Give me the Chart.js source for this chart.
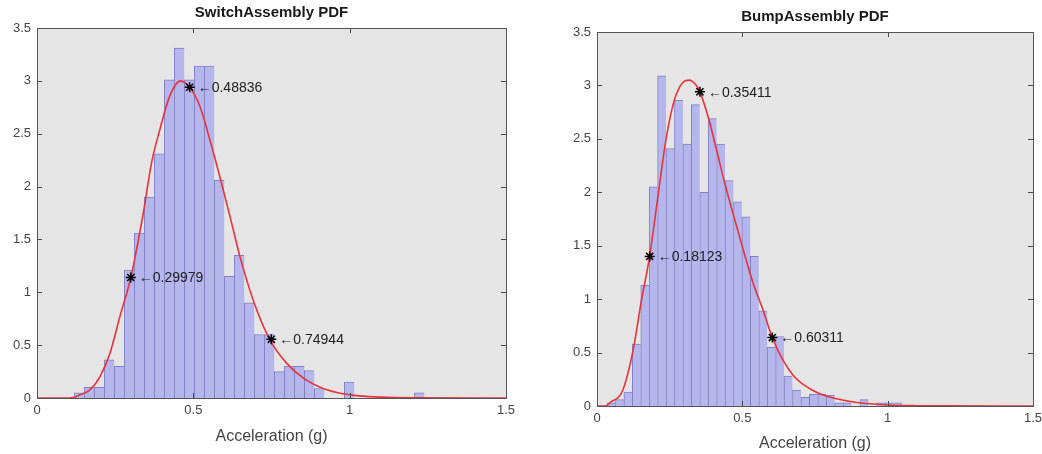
<!DOCTYPE html>
<html>
<head>
<meta charset="utf-8">
<script src="https://cdn.jsdelivr.net/npm/chart.js@4.4.0/dist/chart.umd.min.js"></script>
<style>
  html, body { margin: 0; padding: 0; background: #fff; }
  #wrap { position: relative; width: 1042px; height: 454px; }
  .box { position: absolute; top: 0; width: 521px; height: 454px; }
  #left { left: 0; }
  #right { left: 521px; }
</style>
</head>
<body>
<div id="wrap">
  <div class="box" id="left"><canvas id="switchChart"></canvas></div>
  <div class="box" id="right"><canvas id="bumpChart"></canvas></div>
</div>
<script>
var xTickValues = [0, 0.5, 1, 1.5];
var yTickValues = [0, 0.5, 1, 1.5, 2, 2.5, 3, 3.5];
var xAxisTitle = 'Acceleration (g)';

// SwitchAssembly
var switchTitle = 'SwitchAssembly PDF';
var switchBinCenters = [0.135, 0.167, 0.199, 0.231, 0.263, 0.295, 0.327, 0.359, 0.391, 0.423,
  0.455, 0.487, 0.519, 0.551, 0.583, 0.615, 0.647, 0.679, 0.711, 0.743,
  0.775, 0.807, 0.839, 0.871, 0.903, 0.935, 0.967, 0.999, 1.031, 1.063,
  1.095, 1.127, 1.159, 1.191, 1.223];
var switchDensity = [0.05, 0.10, 0.10, 0.36, 0.30, 1.21, 1.56, 1.90, 2.31, 3.01,
  3.31, 3.01, 3.14, 3.14, 2.06, 1.15, 1.35, 0.90, 0.60, 0.60,
  0.25, 0.30, 0.30, 0.26, 0.09, 0, 0, 0.15, 0, 0,
  0, 0, 0, 0, 0.05];
var switchFitX = [0, 0.08, 0.116, 0.137, 0.169, 0.201, 0.233, 0.265, 0.300, 0.340,
  0.366, 0.393, 0.425, 0.459, 0.488, 0.521, 0.553, 0.585, 0.617, 0.649,
  0.691, 0.744, 0.798, 0.851, 0.915, 0.979, 1.03, 1.1, 1.2, 1.5];
var switchFitY = [0, 0, 0.005, 0.03, 0.076, 0.20, 0.42, 0.77, 1.14, 1.75,
  2.22, 2.54, 2.86, 3.00, 2.94, 2.76, 2.44, 2.09, 1.72, 1.34,
  0.93, 0.555, 0.33, 0.19, 0.09, 0.04, 0.02, 0.008, 0.002, 0];
var switchMarkX = [0.29979, 0.48836, 0.74944];
var switchMarkY = [1.14, 2.94, 0.555];

// BumpAssembly
var bumpTitle = 'BumpAssembly PDF';
var bumpBinCenters = [0.049, 0.078, 0.107, 0.136, 0.165, 0.194, 0.223, 0.252, 0.281, 0.310,
  0.339, 0.368, 0.397, 0.426, 0.455, 0.484, 0.513, 0.542, 0.571, 0.600,
  0.629, 0.658, 0.687, 0.716, 0.745, 0.774, 0.803, 0.832, 0.861, 0.890,
  0.919, 0.948, 0.977, 1.006, 1.035];
var bumpDensity = [0.03, 0.06, 0.13, 0.58, 1.13, 2.05, 3.09, 2.41, 2.86, 2.45,
  2.82, 2.00, 2.69, 2.45, 2.11, 1.91, 1.77, 1.40, 0.89, 0.55,
  0.65, 0.28, 0.15, 0.08, 0.11, 0.11, 0.10, 0.03, 0.03, 0,
  0.06, 0, 0.03, 0.03, 0.03];
var bumpFitX = [0, 0.03, 0.044, 0.089, 0.124, 0.153, 0.181, 0.211, 0.239, 0.267,
  0.296, 0.316, 0.342, 0.354, 0.382, 0.411, 0.439, 0.468, 0.497, 0.537,
  0.571, 0.603, 0.640, 0.674, 0.70, 0.74, 0.78, 0.82, 0.9, 1.0,
  1.1, 1.2, 1.5];
var bumpFitY = [0, 0, 0.03, 0.15, 0.52, 0.99, 1.40, 1.99, 2.52, 2.87,
  3.03, 3.05, 3.00, 2.94, 2.71, 2.40, 2.09, 1.80, 1.52, 1.15,
  0.90, 0.64, 0.43, 0.29, 0.22, 0.15, 0.10, 0.07, 0.03, 0.01,
  0.003, 0.001, 0];
var bumpMarkX = [0.18123, 0.35411, 0.60311];
var bumpMarkY = [1.40, 2.94, 0.64];

var fontFamily = '"Liberation Sans", Arial, Helvetica, sans-serif';

function pairs(xs, ys) {
  return xs.map(function(x, i) { return {x: x, y: ys[i]}; });
}

function plainLabel(value) {
  return String(value);
}

// matlab style axes: grey box, inside ticks on all sides, title, xlabel, marker labels
var matlabAxes = {
  id: 'matlabAxes',
  beforeDraw: function(chart) {
    var a = chart.chartArea, ctx = chart.ctx;
    ctx.save();
    ctx.fillStyle = '#e5e5e5';
    ctx.fillRect(a.left, a.top, a.right - a.left, a.bottom - a.top);
    ctx.restore();
  },
  afterDraw: function(chart, args, opts) {
    var a = chart.chartArea, ctx = chart.ctx;
    var xs = chart.scales.x, ys = chart.scales.y;
    ctx.save();
    ctx.strokeStyle = '#4a4a4a';
    ctx.lineWidth = 1;
    ctx.beginPath();
    xTickValues.forEach(function(v) {
      var px = Math.round(xs.getPixelForValue(v)) + 0.5;
      ctx.moveTo(px, a.bottom); ctx.lineTo(px, a.bottom - 5);
      ctx.moveTo(px, a.top); ctx.lineTo(px, a.top + 5);
    });
    yTickValues.forEach(function(v) {
      var py = Math.round(ys.getPixelForValue(v)) + 0.5;
      ctx.moveTo(a.left, py); ctx.lineTo(a.left + 5, py);
      ctx.moveTo(a.right, py); ctx.lineTo(a.right - 5, py);
    });
    ctx.stroke();
    ctx.strokeStyle = '#555';
    ctx.strokeRect(Math.round(a.left) + 0.5, Math.round(a.top) + 0.5,
      Math.round(a.right - a.left), Math.round(a.bottom - a.top));

    var cx = (a.left + a.right) / 2;
    ctx.fillStyle = '#1a1a1a';
    ctx.textAlign = 'center';
    ctx.textBaseline = 'middle';
    ctx.font = 'bold 15px ' + fontFamily;
    ctx.fillText(opts.title, cx, a.top - 15);
    ctx.fillStyle = '#444';
    ctx.font = '16px ' + fontFamily;
    ctx.fillText(xAxisTitle, cx, a.bottom + opts.xlabelGap);

    // labels next to the star markers
    var meta = chart.getDatasetMeta(0);
    ctx.fillStyle = '#222';
    ctx.textAlign = 'left';
    ctx.font = '14px ' + fontFamily;
    meta.data.forEach(function(pt, i) {
      ctx.fillText('\u2190' + opts.markX[i].toFixed(5), pt.x + 8, pt.y + 1);
    });
    ctx.restore();
  }
};

function makeChart(canvasId, cfg) {
  var box = cfg.box;
  return new Chart(document.getElementById(canvasId), {
    type: 'scatter',
    data: {
      datasets: [
        {
          type: 'line',
          data: pairs(cfg.markX, cfg.markY),
          showLine: false,
          pointStyle: 'star',
          pointRadius: 5,
          borderColor: '#000',
          backgroundColor: '#000',
          pointBorderWidth: 1.5,
          order: 0
        },
        {
          type: 'line',
          data: pairs(cfg.fitX, cfg.fitY),
          borderColor: '#e8333a',
          borderWidth: 1.6,
          pointRadius: 0,
          cubicInterpolationMode: 'monotone',
          fill: false,
          order: 1
        },
        {
          type: 'bar',
          data: pairs(cfg.centers, cfg.density),
          backgroundColor: 'rgb(180,182,236)',
          borderColor: 'rgb(128,130,200)',
          borderWidth: {left: 1, top: 1, right: 0, bottom: 0},
          borderSkipped: false,
          barPercentage: 1,
          categoryPercentage: 1,
          order: 2
        }
      ]
    },
    options: {
      responsive: true,
      maintainAspectRatio: false,
      animation: false,
      layout: {
        padding: {left: 0, top: box.top, right: 521 - box.right, bottom: 0}
      },
      plugins: {
        legend: {display: false},
        tooltip: {enabled: false},
        matlabAxes: {title: cfg.title, markX: cfg.markX, xlabelGap: cfg.xlabelGap}
      },
      scales: {
        x: {
          type: 'linear',
          min: 0,
          max: 1.5,
          offset: false,
          grid: {display: false, drawTicks: false, offset: false},
          border: {display: false},
          afterBuildTicks: function(scale) {
            scale.ticks = xTickValues.map(function(v) { return {value: v}; });
          },
          afterFit: function(scale) {
            scale.height = 454 - box.bottom;
            scale.paddingLeft = 0;
            scale.paddingRight = 0;
          },
          ticks: {
            padding: 5,
            maxRotation: 0,
            color: '#444',
            font: {family: fontFamily, size: 13},
            callback: plainLabel
          }
        },
        y: {
          type: 'linear',
          min: 0,
          max: 3.5,
          grid: {display: false, drawTicks: false},
          border: {display: false},
          afterBuildTicks: function(scale) {
            scale.ticks = yTickValues.map(function(v) { return {value: v}; });
          },
          afterFit: function(scale) {
            scale.width = box.left;
            scale.paddingTop = 0;
            scale.paddingBottom = 0;
          },
          ticks: {
            padding: 6,
            color: '#444',
            font: {family: fontFamily, size: 13},
            callback: plainLabel
          }
        }
      }
    },
    plugins: [matlabAxes]
  });
}

makeChart('switchChart', {
  title: switchTitle,
  centers: switchBinCenters,
  density: switchDensity,
  fitX: switchFitX,
  fitY: switchFitY,
  markX: switchMarkX,
  markY: switchMarkY,
  box: {left: 37, right: 506, top: 28, bottom: 398},
  xlabelGap: 39
});

makeChart('bumpChart', {
  title: bumpTitle,
  centers: bumpBinCenters,
  density: bumpDensity,
  fitX: bumpFitX,
  fitY: bumpFitY,
  markX: bumpMarkX,
  markY: bumpMarkY,
  box: {left: 76, right: 512, top: 32, bottom: 406},
  xlabelGap: 38
});
</script>
</body>
</html>
